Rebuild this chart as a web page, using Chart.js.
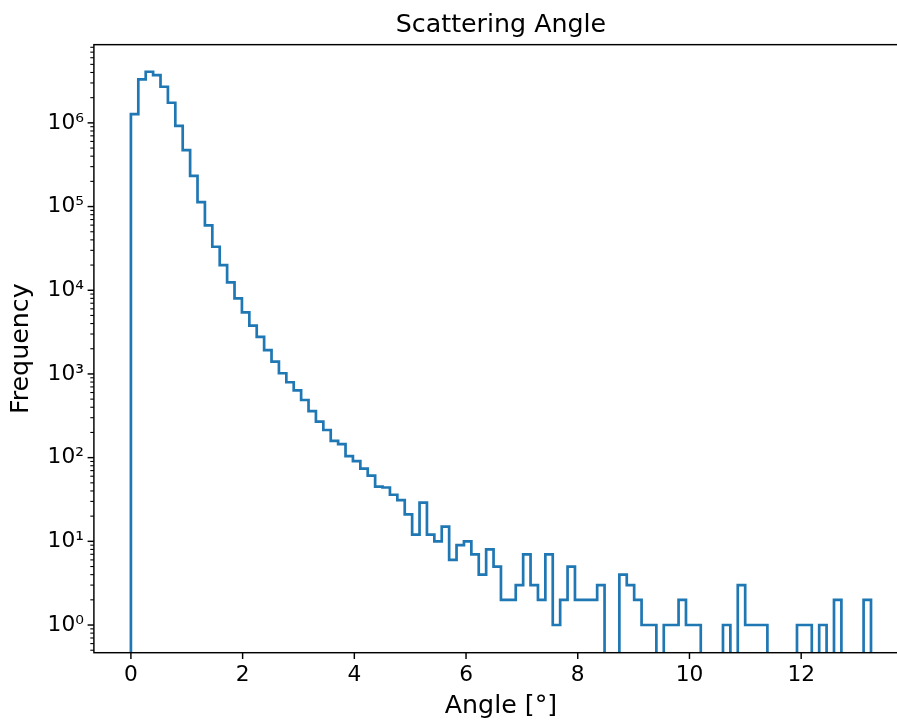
<!DOCTYPE html>
<html>
<head>
<meta charset="utf-8">
<title>Scattering Angle</title>
<script src="https://cdn.jsdelivr.net/npm/chart.js@4.4.1/dist/chart.umd.min.js"></script>
<style>
  html, body { margin: 0; padding: 0; overflow: hidden; background: #fff; }
  #wrap { width: 912px; height: 720px; }
</style>
</head>
<body>
<div id="wrap"><canvas id="chart" width="912" height="720"></canvas></div>
<script>
// histogram of the scattering angle: 100 bins from 0 to 13.25 deg
const binStart = 0;
const binWidth = 0.1325;
const counts = [
  1270000, 3310000, 4080000, 3720000, 2700000, 1740000, 920000, 473000, 233000, 113000,
  59600, 33100, 20000, 12400, 8000, 5440, 3770, 2780, 1930, 1400,
  1020, 796, 637, 488, 360, 269, 214, 159, 145, 104,
  91, 74, 61, 45, 44, 36, 31, 21, 12, 29,
  12, 10, 15, 6, 9, 10, 7, 4, 8, 5,
  2, 2, 3, 7, 3, 2, 7, 1, 2, 5,
  2, 2, 2, 3, 0, 0, 4, 3, 2, 1,
  1, 0, 1, 1, 2, 1, 1, 0, 0, 0,
  1, 0, 3, 1, 1, 1, 0, 0, 0, 0,
  1, 1, 0, 1, 0, 2, 0, 0, 0, 2
];

const xTicks = [0, 2, 4, 6, 8, 10, 12];
const yTicks = [1, 10, 100, 1e3, 1e4, 1e5, 1e6];
const yTickLabels = ['10⁰', '10¹', '10²', '10³', '10⁴', '10⁵', '10⁶'];
const xRange = [-0.6625, 13.9125];
const yRange = [0.467, 8.6e6];

// step outline, empty bins go below the axis (like matplotlib does on log scale)
const floor = 1e-3;
const outline = [{ x: binStart, y: floor }];
counts.forEach((c, i) => {
  const v = c > 0 ? c : floor;
  const x0 = binStart + i * binWidth;
  outline.push({ x: x0, y: v }, { x: x0 + binWidth, y: v });
});
outline.push({ x: binStart + counts.length * binWidth, y: floor });

// spines + tick marks, matplotlib style
const axisDecor = {
  id: 'axisDecor',
  afterDatasetsDraw(chart) {
    const { ctx, chartArea: a, scales: { x, y } } = chart;
    const seg = (x1, y1, x2, y2) => {
      ctx.beginPath();
      ctx.moveTo(x1, y1);
      ctx.lineTo(x2, y2);
      ctx.stroke();
    };
    ctx.save();
    ctx.strokeStyle = '#000';

    // minor log ticks
    ctx.lineWidth = 1.1;
    for (let k = -1; k <= 6; k++) {
      for (let m = 2; m <= 9; m++) {
        const v = m * Math.pow(10, k);
        if (v < yRange[0] || v > yRange[1]) continue;
        const py = y.getPixelForValue(v);
        seg(a.left - 3.6, py, a.left, py);
      }
    }

    ctx.lineWidth = 1.45;
    yTicks.forEach(v => {
      const py = y.getPixelForValue(v);
      seg(a.left - 6.3, py, a.left, py);
    });
    xTicks.forEach(v => {
      const px = x.getPixelForValue(v);
      seg(px, a.bottom, px, a.bottom + 6.3);
    });

    ctx.strokeRect(a.left, a.top, a.right - a.left, a.bottom - a.top);
    ctx.restore();
  }
};

Chart.defaults.font.family = '"DejaVu Sans", sans-serif';
Chart.defaults.color = '#000';

new Chart(document.getElementById('chart'), {
  type: 'line',
  data: {
    datasets: [{
      label: 'Angle',
      data: outline,
      borderColor: '#1f77b4',
      borderWidth: 2.7,
      borderJoinStyle: 'miter',
      pointRadius: 0,
      fill: false,
      tension: 0
    }]
  },
  options: {
    responsive: false,
    animation: false,
    devicePixelRatio: 1,
    layout: { padding: { right: 4 } },
    scales: {
      x: {
        type: 'linear',
        min: xRange[0],
        max: xRange[1],
        grid: { display: false, drawTicks: false },
        border: { display: false },
        afterBuildTicks: scale => { scale.ticks = xTicks.map(v => ({ value: v })); },
        afterFit: scale => { scale.height = 67.3; },
        ticks: {
          padding: 9.3,
          maxRotation: 0,
          font: { size: 21.7 },
          callback: v => String(v)
        },
        title: {
          display: true,
          text: 'Angle [°]',
          font: { size: 25.3, lineHeight: 1 },
          padding: { top: 0, bottom: 1 }
        }
      },
      y: {
        type: 'logarithmic',
        min: yRange[0],
        max: yRange[1],
        grid: { display: false, drawTicks: false },
        border: { display: false },
        afterBuildTicks: scale => { scale.ticks = yTicks.map(v => ({ value: v })); },
        afterFit: scale => { scale.width = 93.9; },
        ticks: {
          padding: 10,
          font: { size: 21.7 },
          callback: v => yTickLabels[yTicks.indexOf(v)] ?? ''
        },
        title: {
          display: true,
          text: 'Frequency',
          font: { size: 25.3 },
          padding: { top: 6, bottom: 0 }
        }
      }
    },
    plugins: {
      legend: { display: false },
      tooltip: { enabled: false },
      title: {
        display: true,
        text: 'Scattering Angle',
        fullSize: false,
        color: '#000',
        font: { size: 25.3, weight: 'normal', lineHeight: 1.2 },
        padding: { top: 10.4, bottom: 3.9 }
      }
    }
  },
  plugins: [axisDecor]
});
</script>
</body>
</html>
